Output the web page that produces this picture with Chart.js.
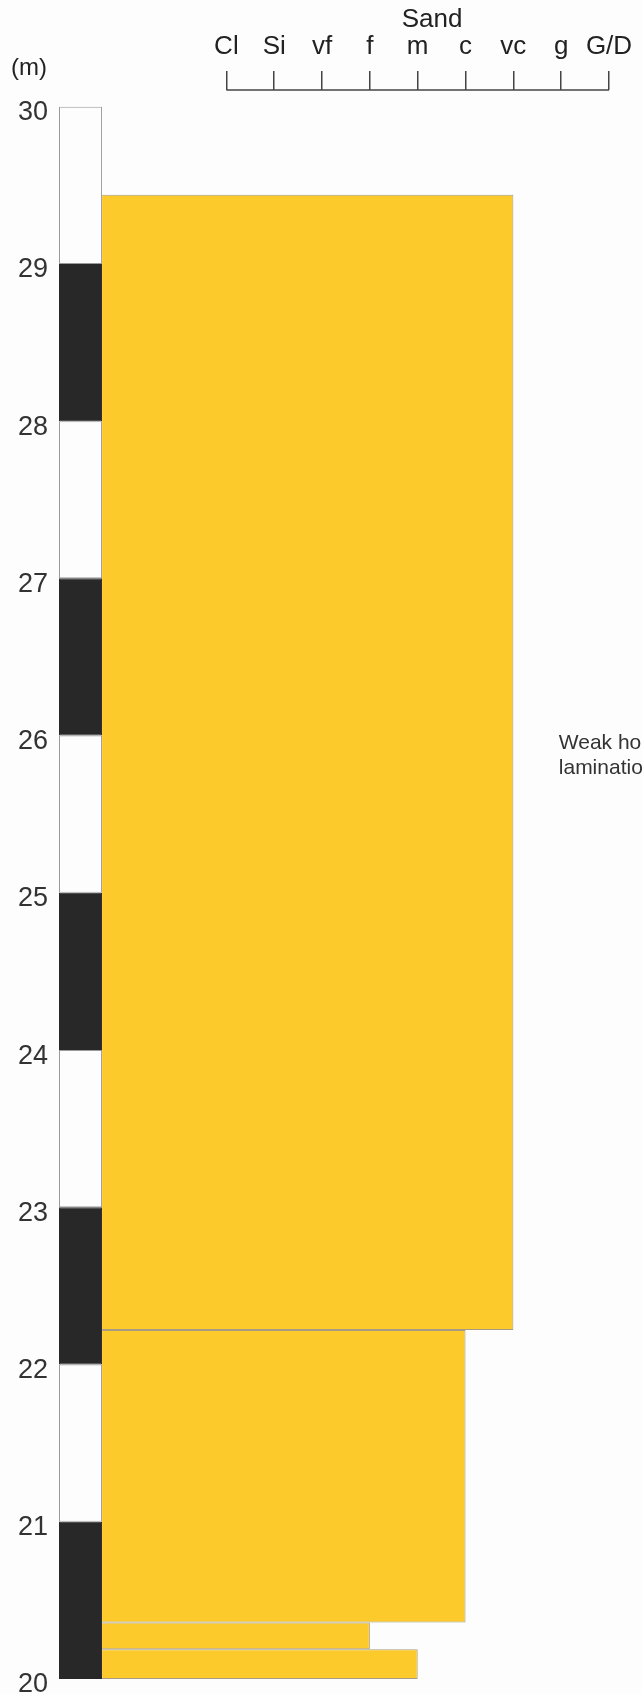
<!DOCTYPE html>
<html>
<head>
<meta charset="utf-8">
<script src="https://cdn.jsdelivr.net/npm/chart.js@4.4.1/dist/chart.umd.min.js"></script>
<style>
  html, body { margin: 0; padding: 0; background: #fdfdfd; }
  canvas { display: block; }
</style>
</head>
<body>
<canvas id="logChart" width="642" height="1694"></canvas>
<script>
// depth ticks (m) and grain size classes
const depthTicks = [20, 21, 22, 23, 24, 25, 26, 27, 28, 29, 30];
const grainLabels = ['Cl', 'Si', 'vf', 'f', 'm', 'c', 'vc', 'g', 'G/D'];

// scale column, 1 m blocks (base depth)
const blockBases = [20, 21, 22, 23, 24, 25, 26, 27, 28, 29];

// beds: top / base depth (m) and grain size
const bedTop = [29.44, 22.22, 20.36, 20.19];
const bedBase = [22.22, 20.36, 20.19, 20.0];
const bedGrain = ['vc', 'c', 'f', 'm'];

// facies note
const noteLines = ['Weak horizontal', 'lamination'];
const noteDepth = 25.95;

const COL_LEFT = -3.5;   // scale column, in grain-axis units
const COL_RIGHT = -2.6;
const FONT = '"Liberation Sans", Arial, sans-serif';
const NARROW = '"Liberation Sans Narrow", "Arial Narrow", "Liberation Sans", sans-serif';

// bar thickness from a depth span, through the y scale
function depthPx(chart, a, b) {
    const y = chart.scales.y;
    return Math.abs(y.getPixelForValue(a) - y.getPixelForValue(b));
}

const datasets = [{
    label: 'scale',
    stack: 'log',
    data: blockBases.map(b => ({ y: b + 0.5, x: [COL_LEFT, COL_RIGHT] })),
    backgroundColor: blockBases.map(b => b % 2 === 0 ? '#282828' : '#fdfdfd'),
    borderColor: blockBases.map(b => b % 2 === 0 ? '#282828' : '#9a9a9a'),
    borderWidth: 1,
    borderSkipped: false,
    inflateAmount: 0,
    barThickness: ctx => depthPx(ctx.chart, 0, 1)
}];

bedTop.forEach((top, i) => {
    datasets.push({
        label: 'bed ' + (i + 1),
        stack: 'log',
        data: [{ y: (top + bedBase[i]) / 2, x: [COL_RIGHT, grainLabels.indexOf(bedGrain[i])] }],
        backgroundColor: '#fdca2b',
        borderColor: 'rgba(110, 92, 50, 0.6)',
        borderWidth: 1,
        borderSkipped: 'start',
        inflateAmount: 0,
        barThickness: ctx => depthPx(ctx.chart, top, bedBase[i])
    });
});

const logText = {
    id: 'logText',
    afterDraw(chart) {
        const { ctx, scales: { xg, y } } = chart;
        ctx.save();
        // base line of the grain size scale
        ctx.strokeStyle = '#444';
        ctx.lineWidth = 1.5;
        ctx.beginPath();
        ctx.moveTo(xg.getPixelForValue(0), xg.bottom);
        ctx.lineTo(xg.getPixelForValue(grainLabels.length - 1), xg.bottom);
        ctx.stroke();

        ctx.fillStyle = '#222';
        ctx.textAlign = 'center';
        ctx.textBaseline = 'middle';
        ctx.font = '26px ' + NARROW;
        ctx.fillText('Sand', xg.getPixelForValue(4.3), 20);
        ctx.font = '24px ' + FONT;
        ctx.fillText('(m)', 29, 68);

        ctx.fillStyle = '#333';
        ctx.font = '21px ' + FONT;
        ctx.textAlign = 'left';
        noteLines.forEach((t, i) => {
            ctx.fillText(t, xg.getPixelForValue(6.95), y.getPixelForValue(noteDepth) + i * 25);
        });
        ctx.restore();
    }
};

new Chart(document.getElementById('logChart').getContext('2d'), {
    type: 'bar',
    data: { datasets: datasets },
    plugins: [logText],
    options: {
        indexAxis: 'y',
        responsive: false,
        animation: false,
        layout: { padding: { top: 0, right: 0, bottom: 15, left: 0 } },
        plugins: { legend: { display: false }, tooltip: { enabled: false } },
        scales: {
            x: {
                type: 'linear',
                display: false,
                stacked: false,
                min: -3.5,
                max: 8.69
            },
            xg: {
                type: 'linear',
                position: 'top',
                min: -3.5,
                max: 8.69,
                afterFit: s => { s.height = 90; },
                afterBuildTicks: s => { s.ticks = grainLabels.map((g, i) => ({ value: i })); },
                border: { display: false },
                grid: {
                    drawOnChartArea: false,
                    drawTicks: true,
                    tickLength: 19,
                    color: '#444',
                    lineWidth: 1.5
                },
                ticks: {
                    padding: 9,
                    maxRotation: 0,
                    autoSkip: false,
                    color: '#222',
                    font: { size: 26, family: NARROW },
                    callback: (v, i) => grainLabels[i]
                }
            },
            y: {
                type: 'linear',
                offset: false,
                min: 20,
                max: 30.106,
                afterFit: s => { s.width = 59; s.paddingTop = 0; s.paddingBottom = 0; },
                afterBuildTicks: s => { s.ticks = depthTicks.map(v => ({ value: v })); },
                border: { display: false },
                grid: { display: false, drawTicks: false, offset: false },
                ticks: {
                    padding: 11,
                    labelOffset: 6,
                    autoSkip: false,
                    color: '#333',
                    font: { size: 27, family: FONT }
                }
            }
        }
    }
});
</script>
</body>
</html>
